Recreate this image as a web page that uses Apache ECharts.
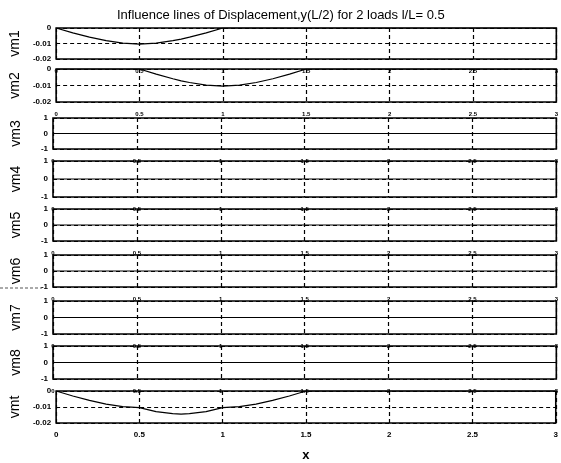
<!DOCTYPE html>
<html>
<head>
<meta charset="utf-8">
<script src="https://cdn.jsdelivr.net/npm/echarts@6/dist/echarts.min.js"></script>
<style>
  html, body { margin: 0; padding: 0; background: #fff; }
  #chart-container { width: 561px; height: 463px; }
</style>
</head>
<body>
<div id="chart-container"></div>
<script>
var dom = document.getElementById("chart-container");
var myChart = echarts.init(dom, null, { renderer: "canvas" });

// load position along the beams
var xs = [0, 0.1, 0.2, 0.3, 0.4, 0.5, 0.6, 0.7, 0.75, 0.8, 0.9, 1.0,
          1.1, 1.2, 1.3, 1.4, 1.5, 2.0, 2.5, 3.0];

// midspan displacement of each member
var vm1 = [0, -0.0031, -0.0059, -0.0082, -0.0098, -0.0104, -0.0098, -0.0082, -0.0072, -0.0059, -0.0031, 0,
           0, 0, 0, 0, 0, 0, 0, 0];
var vm2 = [0, 0, 0, 0, 0, 0, -0.0031, -0.0059, -0.0072, -0.0082, -0.0098, -0.0104,
           -0.0098, -0.0082, -0.0059, -0.0031, 0, 0, 0, 0];
var vm3 = [0, 0, 0, 0, 0, 0, 0, 0, 0, 0, 0, 0, 0, 0, 0, 0, 0, 0, 0, 0];
var vm4 = [0, 0, 0, 0, 0, 0, 0, 0, 0, 0, 0, 0, 0, 0, 0, 0, 0, 0, 0, 0];
var vm5 = [0, 0, 0, 0, 0, 0, 0, 0, 0, 0, 0, 0, 0, 0, 0, 0, 0, 0, 0, 0];
var vm6 = [0, 0, 0, 0, 0, 0, 0, 0, 0, 0, 0, 0, 0, 0, 0, 0, 0, 0, 0, 0];
var vm7 = [0, 0, 0, 0, 0, 0, 0, 0, 0, 0, 0, 0, 0, 0, 0, 0, 0, 0, 0, 0];
var vm8 = [0, 0, 0, 0, 0, 0, 0, 0, 0, 0, 0, 0, 0, 0, 0, 0, 0, 0, 0, 0];
var vmt = [0, -0.0031, -0.0059, -0.0082, -0.0098, -0.0104, -0.0129, -0.0141, -0.0144, -0.0141, -0.0129, -0.0104,
           -0.0098, -0.0082, -0.0059, -0.0031, 0, 0, 0, 0];

var names = ["vm1", "vm2", "vm3", "vm4", "vm5", "vm6", "vm7", "vm8", "vmt"];
var values = [vm1, vm2, vm3, vm4, vm5, vm6, vm7, vm8, vmt];
var small = [true, true, false, false, false, false, false, false, true];

var tops = [28, 69, 118, 161, 209, 255, 301, 346, 391];
var heights = [31, 33, 31, 36, 32, 32, 33, 33, 33];

var font = "Liberation Sans";
var grids = [], xAxes = [], yAxes = [], series = [];

for (var i = 0; i < names.length; i++) {
  var last = i === names.length - 1;
  grids.push({
    left: 53,
    width: 507,
    top: tops[i],
    height: heights[i],
    show: true,
    backgroundColor: "#fff",
    borderColor: "#000",
    borderWidth: 1.6
  });
  xAxes.push({
    type: "value",
    gridIndex: i,
    min: 0,
    max: 3,
    interval: 0.5,
    axisLine: { show: false },
    axisTick: { show: false },
    axisLabel: {
      show: true,
      margin: last ? 8 : 9,
      fontSize: last ? 8 : 6,
      fontWeight: "bold",
      fontFamily: font,
      color: "#000"
    },
    splitLine: { show: true, lineStyle: { color: "#000", type: [4, 3], width: 1.2 } },
    name: last ? "x" : "",
    nameLocation: "middle",
    nameGap: 26,
    nameTextStyle: { fontSize: 13, fontWeight: "bold", fontFamily: font, color: "#000" }
  });
  yAxes.push({
    type: "value",
    gridIndex: i,
    min: small[i] ? -0.02 : -1,
    max: small[i] ? 0 : 1,
    interval: small[i] ? 0.01 : 1,
    axisLine: { show: false },
    axisTick: { show: false },
    axisLabel: {
      margin: 5,
      fontSize: 8,
      fontWeight: "bold",
      fontFamily: font,
      color: "#000"
    },
    splitLine: { show: true, lineStyle: { color: "#000", type: [4, 3], width: 1.2 } },
    name: names[i],
    nameLocation: "middle",
    nameRotate: 90,
    nameGap: 30,
    nameTextStyle: { fontSize: 14, fontFamily: font, color: "#000" }
  });
  series.push({
    type: "line",
    xAxisIndex: i,
    yAxisIndex: i,
    showSymbol: false,
    silent: true,
    z: 3,
    lineStyle: { color: "#000", width: 1.2 },
    data: xs.map(function (x, k) { return [x, values[i][k]]; })
  });
}

var option = {
  animation: false,
  backgroundColor: "#fff",
  title: {
    text: "Influence lines of Displacement,y(L/2) for 2 loads l/L= 0.5",
    left: 112,
    top: 4,
    textStyle: { fontSize: 13, fontWeight: "normal", fontFamily: font, color: "#000" }
  },
  graphic: [{
    type: "line",
    shape: { x1: 0, y1: 288, x2: 42, y2: 288 },
    style: { stroke: "#555", lineWidth: 1, lineDash: [3, 2] }
  }],
  grid: grids,
  xAxis: xAxes,
  yAxis: yAxes,
  series: series
};

myChart.setOption(option);
window.addEventListener("resize", myChart.resize);
</script>
</body>
</html>
